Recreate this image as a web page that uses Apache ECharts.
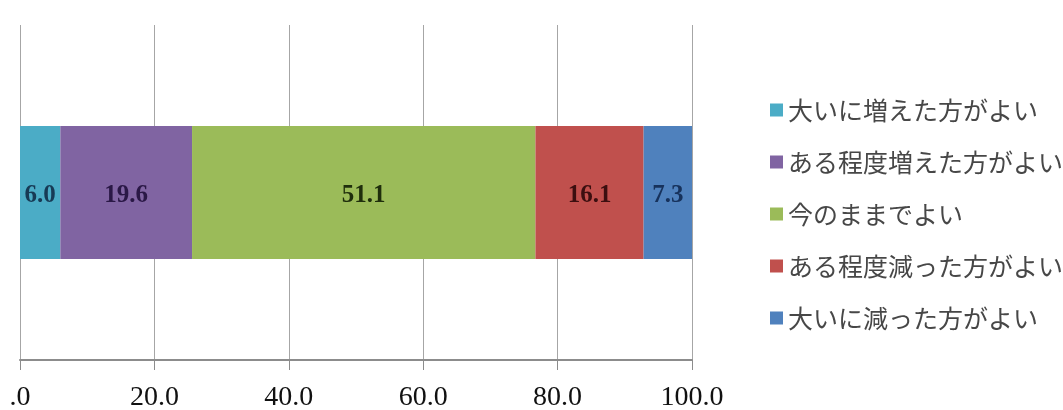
<!DOCTYPE html>
<html>
<head>
<meta charset="utf-8">
<style>
  html, body { margin: 0; padding: 0; background: #ffffff; }
  #chart { width: 1063px; height: 410px; }
</style>
<script src="https://cdn.jsdelivr.net/npm/echarts@6/dist/echarts.min.js"></script>
</head>
<body>
<div id="chart"></div>
<script>
// Survey answers (%), one stacked bar
const categories = ['回答'];
const seriesNames = ['大いに増えた方がよい', 'ある程度増えた方がよい', '今のままでよい', 'ある程度減った方がよい', '大いに減った方がよい'];
const seriesValues = [[6.0], [19.6], [51.1], [16.1], [7.3]];
const seriesColors = ['#4bacc6', '#8064a2', '#9bbb59', '#c0504d', '#4f81bd'];
const labelColors = ['#173a55', '#2a1846', '#1f2e0c', '#3c0f10', '#17325c'];
const xTicks = { min: 0, max: 100, interval: 20 };

const chart = echarts.init(document.getElementById('chart'), null, { renderer: 'canvas' });

const series = seriesNames.map((name, i) => ({
  name: name,
  type: 'bar',
  stack: 'total',
  barWidth: 133,
  data: seriesValues[i],
  itemStyle: { color: seriesColors[i] },
  label: {
    show: true,
    position: 'inside',
    offset: [0, 3],
    formatter: p => Number(p.value).toFixed(1),
    fontFamily: 'Liberation Serif',
    fontWeight: 'bold',
    fontSize: 25,
    color: labelColors[i]
  },
  emphasis: { disabled: true }
}));

chart.setOption({
  animation: false,
  grid: { left: 20, right: 371, top: 25, bottom: 50, containLabel: false, outerBoundsMode: 'none' },
  legend: {
    orient: 'vertical',
    left: 765,
    top: 92,
    icon: 'rect',
    itemWidth: 13,
    itemHeight: 13,
    itemGap: 26,
    selectedMode: false,
    textStyle: {
      fontFamily: 'Noto Sans CJK JP',
      fontSize: 25,
      lineHeight: 26,
      color: '#474747'
    },
    data: seriesNames
  },
  xAxis: {
    type: 'value',
    min: xTicks.min,
    max: xTicks.max,
    interval: xTicks.interval,
    axisLine: { show: true, lineStyle: { color: '#8c8c8c', width: 2 } },
    axisTick: { show: true, length: 10, lineStyle: { color: '#8c8c8c', width: 1 } },
    splitLine: { show: true, lineStyle: { color: '#a6a6a6', width: 1 } },
    axisLabel: {
      margin: 24,
      fontFamily: 'Liberation Serif',
      fontSize: 28,
      color: '#111111',
      formatter: v => (v === 0 ? '.0' : v.toFixed(1))
    }
  },
  yAxis: {
    type: 'category',
    data: categories,
    axisLine: { show: false },
    axisTick: { show: false },
    axisLabel: { show: false },
    splitLine: { show: false }
  },
  series: series
});
</script>
</body>
</html>
